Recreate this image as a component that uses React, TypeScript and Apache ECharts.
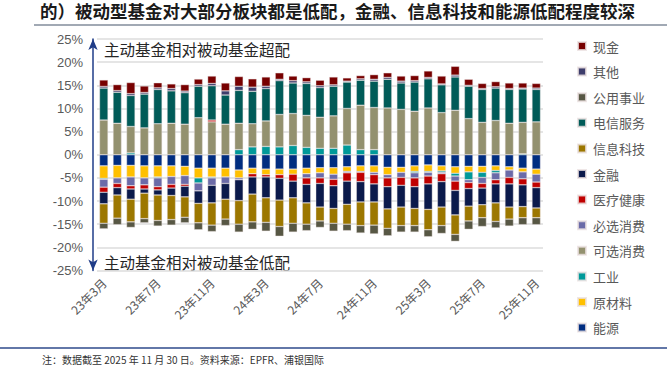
import React, { useEffect, useRef } from "react";
import * as echarts from "echarts";

const months = [
  "23年3月", "23年4月", "23年5月", "23年6月", "23年7月", "23年8月", "23年9月", "23年10月", "23年11月", "23年12月",
  "24年1月", "24年2月", "24年3月", "24年4月", "24年5月", "24年6月", "24年7月", "24年8月", "24年9月", "24年10月", "24年11月", "24年12月",
  "25年1月", "25年2月", "25年3月", "25年4月", "25年5月", "25年6月", "25年7月", "25年8月", "25年9月", "25年10月", "25年11月",
];

// values in %, active minus passive fund weight
const energy = [-2.4, -2.3, -2.3, -2.4, -2.4, -2.4, -2.5, -2.9, -2.9, -2.9, -3.3, -2.9, -3.1, -3.1, -3.1, -2.9, -2.8, -2.8, -2.6, -2.4, -2.4, -2.7, -2.7, -2.4, -2.2, -2.4, -2.6, -2.5, -2.5, -2.4, -2.6, -2.9, -3.1];
const materials = [-2.7, -2.7, -2.5, -2.6, -2.4, -2.3, -2.0, -2.1, -1.9, -1.9, -1.7, -1.2, -1.2, -1.2, -1.1, -1.2, -1.1, -1.4, -1.0, -1.2, -1.4, -1.6, -1.1, -1.2, -1.4, -1.1, -1.4, -1.2, -1.3, -1.0, -0.7, -0.8, -1.1];
const industrials = [-0.2, 0, 0.4, 0, -0.2, 0, 0, -1.1, -0.2, 0, 1.1, 1.7, 1.8, 1.7, 2.0, 1.6, 1.4, 1.4, 2.1, 1.1, 1.1, 0, 0, -0.3, -0.2, -0.3, -0.6, -1.7, -1.1, -0.5, 0, 0.2, 0];
const discretionary = [7.5, 6.8, 5.7, 5.8, 6.7, 6.8, 6.6, 8.0, 7.1, 6.6, 5.7, 5.0, 5.5, 7.0, 6.9, 6.9, 6.7, 7.0, 7.9, 9.6, 9.1, 10.1, 9.8, 9.4, 10.1, 9.1, 9.6, 7.8, 7.0, 7.4, 6.8, 6.8, 7.1];
const staples = [-1.7, -1.2, -1.9, -1.5, -1.9, -1.7, -1.9, -1.7, -1.6, -1.4, -0.4, 0, 0, 0, 0, -0.9, -1.1, -1.1, -0.3, -0.2, -0.5, -0.7, -1.1, -1.1, -0.8, -0.3, -1.1, -0.6, -1.3, -1.5, -1.6, -1.5, -1.7];
const healthcare = [-1.1, -0.9, -0.7, -0.9, -0.7, -0.8, -0.4, 0, 0.4, 0, 0, -0.7, -0.5, -0.8, -1.5, -1.4, -1.2, -1.4, -1.8, -2.0, -2.0, -1.9, -1.7, -1.9, -1.7, -1.7, -2.0, -1.3, -1.0, -0.9, -1.4, -1.3, -1.2];
const financials = [-2.5, -1.6, -2.2, -0.9, -1.1, -1.6, -2.3, -2.7, -3.8, -3.4, -4.5, -3.7, -4.5, -4.7, -3.6, -4.0, -5.1, -4.9, -5.0, -4.4, -3.9, -4.8, -4.7, -4.7, -5.5, -5.5, -5.3, -3.8, -3.6, -4.1, -5.0, -4.7, -4.4];
const infoTech = [-4.2, -5.0, -4.9, -5.5, -5.5, -5.2, -4.4, -4.2, -4.8, -4.3, -5.1, -6.0, -5.3, -5.7, -5.5, -4.6, -3.0, -3.2, -4.3, -5.1, -5.0, -4.2, -4.0, -3.7, -4.4, -4.0, -4.2, -3.2, -2.8, -4.0, -2.6, -2.4, -2.1];
const telecom = [6.9, 6.7, 6.7, 7.3, 7.4, 7.0, 6.8, 6.8, 7.4, 6.3, 7.1, 7.0, 7.0, 7.3, 6.6, 6.9, 6.4, 6.4, 5.7, 5.4, 5.7, 6.2, 5.7, 6.3, 6.3, 6.0, 7.2, 7.0, 7.1, 7.0, 7.3, 7.2, 7.0];
const utilities = [-1.2, -1.4, -1.2, -0.9, -1.2, -1.2, -1.2, -1.5, -1.4, -1.4, -1.7, -1.6, -1.9, -2.1, -1.9, -1.4, -1.4, -1.7, -1.4, -1.6, -1.9, -1.6, -1.4, -1.4, -1.5, -1.7, -1.5, -1.8, -1.9, -1.4, -1.5, -1.5, -1.5];
const others = [0.35, 0.35, 0.4, 0.35, 0.35, 0.5, 0.35, 0.35, 0.5, 0.9, 0.9, 0.9, 0.5, 0.3, 0.5, 0.35, 0.4, 0.3, 0.2, 0.3, 0.4, 0.4, 0.4, 0.3, 0.3, 0.2, 0.4, 0.2, 0.2, 0.3, 0.2, 0.2, 0.3];
const cash = [1.4, 1.3, 2.4, 1.4, 1.1, 1.0, 1.4, 1.2, 1.6, 1.7, 2.1, 1.8, 2.0, 1.4, 1.0, 0.9, 1.2, 1.7, 0.7, 0.7, 1.0, 1.0, 1.1, 1.1, 1.4, 1.7, 1.9, 1.3, 1.1, 1.1, 1.2, 1.1, 1.0];

const seriesNames = ["能源", "原材料", "工业", "可选消费", "必选消费", "医疗健康", "金融", "信息科技", "电信服务", "公用事业", "其他", "现金"];
const seriesData = [energy, materials, industrials, discretionary, staples, healthcare, financials, infoTech, telecom, utilities, others, cash];
const seriesColors = ["#002D80", "#FFC000", "#009999", "#93916F", "#6B6BA8", "#C00000", "#0B1A4B", "#9C7700", "#005B58", "#575744", "#3D3D6B", "#770000"];

const yTicks = { min: -25, max: 25, interval: 5 };

const titleText = "的）被动型基金对大部分板块都是低配，金融、信息科技和能源低配程度较深";
const overText = "主动基金相对被动基金超配";
const underText = "主动基金相对被动基金低配";
const footText = "注：数据截至 2025 年 11 月 30 日。资料来源：EPFR、浦银国际";

export default function App() {
  const ref = useRef<HTMLDivElement>(null);
  useEffect(() => {
    if (!ref.current) return;
    const chart = echarts.init(ref.current, null, { renderer: "svg" });
    const cjk = "'Noto Sans CJK SC', sans-serif";
    chart.setOption({
      animation: false,
      backgroundColor: "#ffffff",
      grid: { left: 97, right: 124, top: 39, bottom: 104.5, containLabel: false },
      legend: {
        data: [...seriesNames].reverse(),
        orient: "vertical",
        left: 572,
        top: 34,
        itemWidth: 8,
        itemHeight: 8,
        itemGap: 11.6,
        icon: "rect",
        selectedMode: false,
        textStyle: { fontSize: 13, color: "#595959", fontFamily: cjk, lineHeight: 14, padding: [0, 0, 0, 2] },
      },
      xAxis: {
        type: "category",
        data: months,
        axisLine: { show: false },
        axisTick: { show: false },
        axisLabel: { interval: 3, rotate: 45, fontSize: 12, color: "#595959", margin: 10, fontFamily: cjk },
      },
      yAxis: {
        type: "value",
        min: yTicks.min,
        max: yTicks.max,
        interval: yTicks.interval,
        offset: 4,
        axisLine: {
          show: true,
          lineStyle: { color: "#1F3C88", width: 1.5 },
          symbol: ["arrow", "arrow"],
          symbolSize: [7, 11],
        },
        axisTick: { show: false },
        axisLabel: { formatter: "{value}%", fontSize: 13, color: "#595959", margin: 10, fontFamily: "'Liberation Sans', Arial, sans-serif" },
        splitLine: { show: true, lineStyle: { color: "#DCDCDC", width: 1.5 } },
      },
      series: seriesNames.map((name, i) => ({
        name,
        type: "bar",
        stack: "total",
        barWidth: 8.5,
        data: seriesData[i].map((v) => (v === 0 ? "-" : v)),
        itemStyle: { color: seriesColors[i], borderColor: "rgba(235,225,225,0.8)", borderWidth: 0.5 },
        emphasis: { disabled: true },
      })),
      graphic: [
        {
          type: "text",
          left: 40,
          top: 2,
          style: { text: titleText, fontSize: 17.5, fontWeight: "bold", fill: "#1A1A1A", fontFamily: cjk },
        },
        { type: "line", shape: { x1: 34, y1: 25, x2: 667, y2: 25 }, style: { stroke: "#44546A", lineWidth: 1.2 } },
        {
          type: "text",
          left: 104,
          top: 41,
          style: { text: overText, fontSize: 15.5, fill: "#262626", fontFamily: cjk },
        },
        {
          type: "text",
          left: 104,
          top: 254,
          style: { text: underText, fontSize: 15.5, fill: "#262626", fontFamily: cjk },
        },
        { type: "line", shape: { x1: 0, y1: 348, x2: 667, y2: 348 }, style: { stroke: "#2E4A8B", lineWidth: 1.5 } },
        {
          type: "text",
          left: 42,
          top: 354,
          style: { text: footText, fontSize: 10, fill: "#333333", fontFamily: cjk },
        },
      ],
    });
    return () => chart.dispose();
  }, []);
  return (
    <div
      ref={ref}
      style={{ position: "absolute", left: 0, top: 0, width: 667, height: 375, background: "#ffffff" }}
    />
  );
}
